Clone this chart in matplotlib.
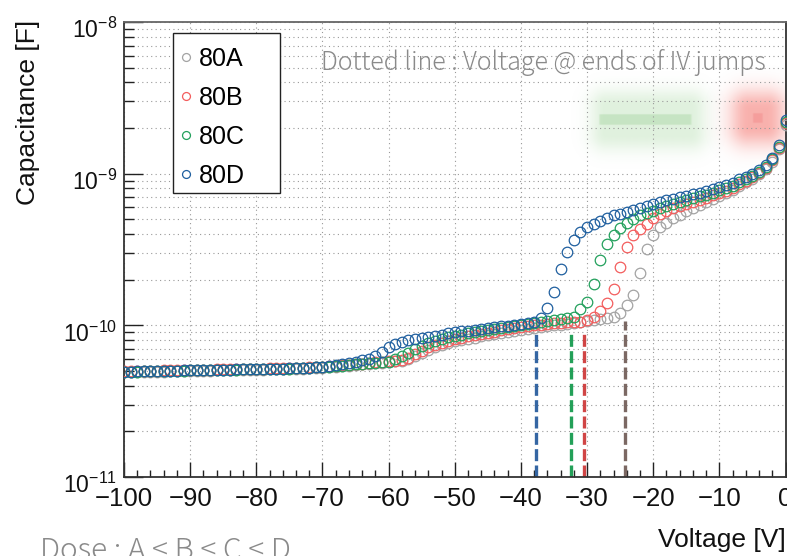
import numpy as np
import matplotlib
matplotlib.use("Agg")
import matplotlib.pyplot as plt
from matplotlib.patches import Rectangle
from matplotlib.transforms import ScaledTranslation
from matplotlib.ticker import LogLocator, NullFormatter, LogFormatterMathtext, MultipleLocator

plt.rcParams['font.family'] = ['Liberation Sans', 'DejaVu Sans']
plt.rcParams['mathtext.fontset'] = 'custom'
plt.rcParams['mathtext.rm'] = 'Liberation Sans'
plt.rcParams['mathtext.it'] = 'Liberation Sans:italic'
plt.rcParams['mathtext.bf'] = 'Liberation Sans:bold'

# bias voltage, 1 V steps from -100 V to 0 V
voltage = list(range(-100, 1))

# capacitance in pF
cap_80A = [49.0, 49.1, 49.2, 49.3, 49.4, 49.5, 49.6, 49.7, 49.8, 49.9,
           50.0, 50.1, 50.2, 50.3, 50.4, 50.5, 50.6, 50.7, 50.8, 50.9,
           51.0, 51.1, 51.2, 51.3, 51.4, 51.5, 51.7, 51.9, 52.1, 52.4,
           52.7, 53.0, 53.4, 53.8, 54.2, 54.7, 55.2, 55.7, 56.2, 56.8,
           57.4, 58.0, 58.6, 60.0, 62.5, 65.5, 69.0, 72.0, 74.5, 76.5,
           78.5, 80.0, 81.5, 83.0, 84.5, 86.0, 87.5, 89.0, 90.5, 92.0,
           93.5, 95.0, 96.5, 98.0, 99.0, 100.0, 101.0, 102.0, 103.0, 104.5,
           106, 108, 110, 111, 114, 120, 136, 159, 220, 318,
           394, 443, 475, 508, 535, 565, 595, 625, 655, 685,
           715, 745, 785, 830, 875, 925, 990, 1070, 1200, 1450,
           2100]
cap_80B = [49.8, 49.9, 50.0, 50.1, 50.2, 50.3, 50.4, 50.5, 50.6, 50.7,
           50.8, 50.9, 51.0, 51.1, 51.2, 51.3, 51.4, 51.5, 51.6, 51.7,
           51.8, 51.9, 52.0, 52.1, 52.2, 52.3, 52.5, 52.7, 52.9, 53.2,
           53.5, 53.8, 54.2, 54.6, 55.0, 55.5, 56.0, 56.5, 57.0, 57.6,
           58.0, 58.5, 59.0, 61.0, 64.5, 68.0, 72.0, 74.5, 77.0, 79.0,
           81.0, 83.0, 85.0, 86.5, 88.0, 89.5, 91.0, 92.5, 94.0, 95.5,
           97.0, 98.5, 100.0, 101.0, 102.0, 103.0, 104.0, 104.5, 105.0, 105.5,
           109, 114, 124, 140, 173, 242, 330, 394, 432, 466,
           508, 540, 565, 590, 612, 632, 652, 672, 695, 718,
           742, 770, 805, 850, 895, 945, 1010, 1090, 1225, 1480,
           2150]
cap_80C = [49.4, 49.5, 49.6, 49.7, 49.8, 49.9, 50.0, 50.1, 50.2, 50.3,
           50.4, 50.5, 50.6, 50.7, 50.8, 50.9, 51.0, 51.1, 51.2, 51.3,
           51.4, 51.5, 51.6, 51.7, 51.8, 51.9, 52.1, 52.3, 52.5, 52.8,
           53.1, 53.5, 53.9, 54.3, 54.8, 55.3, 55.8, 56.3, 56.8, 57.2,
           57.5, 59.7, 63.0, 66.0, 70.0, 73.0, 76.0, 79.0, 81.5, 83.5,
           85.5, 87.0, 88.5, 90.0, 91.5, 93.0, 94.5, 96.0, 97.5, 99.0,
           100.5, 102.0, 103.5, 105.0, 106.5, 108.0, 109.5, 111.0, 114.0, 128,
           143, 187, 270, 344, 396, 436, 475, 500, 530, 549,
           570, 592, 612, 632, 650, 670, 690, 708, 728, 750,
           775, 800, 835, 880, 920, 965, 1030, 1110, 1250, 1510,
           2200]
cap_80D = [49.5, 49.6, 49.7, 49.8, 49.9, 50.0, 50.1, 50.2, 50.3, 50.4,
           50.5, 50.6, 50.7, 50.8, 50.9, 51.0, 51.1, 51.2, 51.3, 51.4,
           51.5, 51.6, 51.7, 51.8, 51.9, 52.0, 52.2, 52.4, 52.7, 53.0,
           53.4, 53.8, 54.4, 55.2, 56.3, 57.5, 58.7, 60.2, 62.8, 67.0,
           72.0, 75.0, 77.5, 79.5, 81.0, 82.5, 84.0, 85.5, 87.0, 88.5,
           90.0, 91.2, 92.4, 93.6, 94.8, 96.0, 97.2, 98.4, 99.6, 100.8,
           102.0, 103.2, 104.5, 112, 130, 166, 236, 306, 368, 411,
           442, 469, 489, 511, 531, 545, 563, 579, 593, 612,
           630, 652, 670, 684, 698, 716, 735, 750, 769, 789,
           813, 838, 873, 918, 955, 995, 1058, 1140, 1277, 1545,
           2260]

series_names = ['80A', '80B', '80C', '80D']
series_caps = [cap_80A, cap_80B, cap_80C, cap_80D]
series_colors = ['#a3a3a3', '#f35d5d', '#22a05c', '#1f5f9f']

# voltage at the end of the IV jumps (dotted lines) and where they stop
jump_v = [-37.7, -32.4, -30.4, -24.3]
jump_top_pf = [89, 89, 89, 107]
jump_colors = ['#3566a3', '#23a058', '#d04545', '#7b6863']

fig = plt.figure(figsize=(7.87, 5.56), dpi=100)
ax = fig.add_axes([0.1576, 0.1421, 0.8405, 0.8183])

# blurred highlight marks sitting on the picture
W, H = 787, 556
px0, px1, py0, py1 = 550, 787, 65, 180
xx, yy = np.meshgrid(np.arange(px0, px1) + 0.5, np.arange(py0, py1) + 0.5)


def soft_box(x0, x1, y0, y1, blur):
    dx = np.maximum(np.maximum(x0 - xx, xx - x1), 0)
    dy = np.maximum(np.maximum(y0 - yy, yy - y1), 0)
    d = np.hypot(dx, dy)
    return np.exp(-(d / blur) ** 2)


def fax(x):
    return (x - 124) / 661.0


def fay(y):
    return (477 - y) / 455.0


ext = (fax(px0), fax(px1), fay(py1), fay(py0))
layers = [
    ((0.55, 0.80, 0.52), 0.27 * soft_box(606, 690, 106, 134, 17)),
    ((0.70, 0.86, 0.68), 0.55 * soft_box(600, 690, 115, 124, 0.8)),
    ((0.96, 0.45, 0.42), 0.55 * soft_box(748, 766, 109, 127, 20)),
    ((0.95, 0.55, 0.55), 0.5 * soft_box(753, 761, 114, 122, 0.8)),
]
for col, alpha in layers:
    rgba = np.zeros(alpha.shape + (4,))
    rgba[..., :3] = col
    rgba[..., 3] = np.clip(alpha, 0, 1)
    ax.imshow(rgba, extent=ext, transform=ax.transAxes, aspect='auto',
              interpolation='bilinear', zorder=0.2)

for v, top, c in zip(jump_v, jump_top_pf, jump_colors):
    ax.vlines(v, 1e-11, top * 1e-12, colors=c, lw=2.4,
              linestyles=(0, (3.6, 1.3)), zorder=1.5)

for name, cap, c in zip(series_names, series_caps, series_colors):
    ax.plot(voltage, [v * 1e-12 for v in cap], 'o', mfc='none', mec=c,
            ms=7.6, mew=0.9, label=name, zorder=3)

ax.set_yscale('log')
ax.set_xlim(-100, 0)
ax.set_ylim(1e-11, 1e-8)

ax.xaxis.set_major_locator(MultipleLocator(10))
ax.xaxis.set_minor_locator(MultipleLocator(2))
ax.yaxis.set_major_locator(LogLocator(base=10))
ax.yaxis.set_minor_locator(LogLocator(base=10, subs=np.arange(2, 10)))
ax.yaxis.set_major_formatter(LogFormatterMathtext())
ax.yaxis.set_minor_formatter(NullFormatter())

ax.tick_params(axis='both', which='both', direction='in', colors='#222',
               width=1.0, labelcolor='#111')
ax.tick_params(axis='y', which='major', length=14, pad=5, labelsize=16.5)
ax.tick_params(axis='y', which='minor', length=7)
ax.tick_params(axis='x', which='major', length=10.5, pad=7, labelsize=18.5)
ax.tick_params(axis='x', which='minor', length=5)

# ROOT puts the "10" of each label a little below the tick
shift = ScaledTranslation(0, -4.5 / 72, fig.dpi_scale_trans)
for t in ax.yaxis.get_major_ticks():
    t.label1.set_transform(t.label1.get_transform() + shift)

ax.set_axisbelow(True)
ax.grid(True, which='major', axis='x', ls=(0, (1, 3)), color='#999999', lw=0.8)
ax.grid(True, which='both', axis='y', ls=(0, (1, 3)), color='#999999', lw=0.8)

for s in ax.spines.values():
    s.set_linewidth(1.3)
    s.set_color('#333')
ax.spines['top'].set_color('#666')

ax.set_ylabel('Capacitance [F]', fontsize=19, loc='top', color='#111')
ax.yaxis.set_label_coords(-0.127, 1.005)
ax.set_xlabel('Voltage [V]', fontsize=19, loc='right', color='#111')
ax.xaxis.set_label_coords(1.0, -0.112)

ax.text(fax(765), fay(69.5), 'Dotted line : Voltage @ ends of IV jumps',
        transform=ax.transAxes, ha='right', va='baseline', fontsize=18,
        color='#8a8a8a', family=['Noto Sans CJK JP', 'DejaVu Sans'],
        weight='light', zorder=0.3)
fig.text(40 / W, -0.006, 'Dose : A < B < C < D', ha='left', va='baseline',
         fontsize=21.5, color='#8a8a8a', family=['Noto Sans CJK JP', 'DejaVu Sans'],
         weight='light')

# legend box is wider than its entries, as in the ROOT canvas
ax.add_patch(Rectangle((fax(173), fay(193)), fax(280) - fax(173), fay(33) - fay(193),
                       transform=ax.transAxes, facecolor='white', edgecolor='#222',
                       lw=1.0, zorder=4))
leg = ax.legend(loc='upper left', bbox_to_anchor=(fax(179.5), fay(46.5)), frameon=False,
                fontsize=18, markerscale=0.75, handlelength=0.5, handletextpad=0.27,
                labelspacing=0.6, borderpad=0, borderaxespad=0)
leg.set_zorder(5)

fig.savefig('out.png', dpi=100)
